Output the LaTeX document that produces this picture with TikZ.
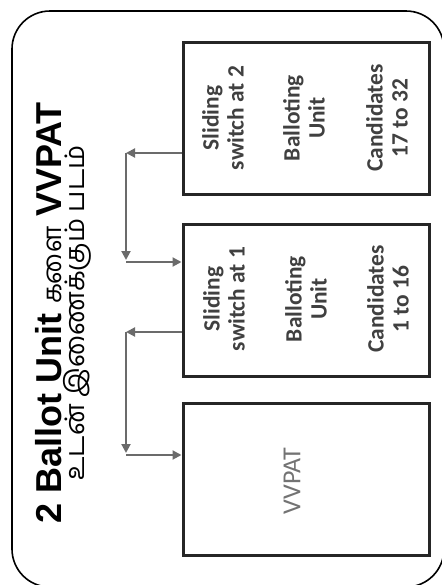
\documentclass[tikz,border=0pt]{standalone}
\usepackage{fontspec}
\setmainfont{Carlito}
\newfontfamily\arialfont{Liberation Sans}
\newfontfamily\tamilfont[Script=Tamil]{Hind Madurai}
\usetikzlibrary{arrows.meta}
\tikzset{
  unitbox/.style={draw=black!85, line width=1.5pt, minimum width=123pt, minimum height=76pt, inner sep=0pt},
  boxlabel/.style={rotate=90, align=center, text=black!75, inner sep=0pt,
    font=\bfseries\fontsize{11.7}{12.5}\selectfont},
  link/.style={draw=black!58, line width=1pt, -{Triangle[length=4.5pt,width=4.5pt]}},
}
\begin{document}
\begin{tikzpicture}[x=0.5pt, y=-0.5pt]

  % Size of the page (reference picture, in pixels)
  \useasboundingbox (0,0) rectangle (442,585);

  % Outer frame with rounded corners
  \draw[line width=0.8pt, rounded corners=19pt] (12,11) rectangle (444,587);

  % Title, read from bottom to top
  \node[rotate=90, inner sep=0pt] (title1) at (49,313)
    {\arialfont\bfseries\fontsize{18}{20}\selectfont 2 Ballot Unit {\tamilfont\mdseries\fontsize{13}{15}\selectfont களை} VVPAT};
  \node[rotate=90, inner sep=0pt] (title2) at (77,313)
    {\tamilfont\fontsize{13.5}{15}\selectfont உடன் இணைக்கும் படம்};

  % The three units (from top to bottom)
  \node[unitbox] (bu2) at (306,118.5) {};
  \node[unitbox] (bu1) at (306,300.5) {};
  \node[unitbox] (vvpat) at (306,479) {};

  % Texts of the second balloting unit
  \node[boxlabel] (sw2) at (223,118) {Sliding\\switch at 2};
  \node[boxlabel] (bal2) at (304,118) {Balloting\\Unit};
  \node[boxlabel] (cand2) at (387,118) {Candidates\\17 to 32};

  % Texts of the first balloting unit
  \node[boxlabel] (sw1) at (224,299) {Sliding\\switch at 1};
  \node[boxlabel] (bal1) at (306,299) {Balloting\\Unit};
  \node[boxlabel] (cand1) at (388,299) {Candidates\\1 to 16};

  % Text of the VVPAT
  \node[rotate=90, inner sep=0pt, text=black!55, font=\fontsize{13}{15}\selectfont] (vvtext) at (292,481) {VVPAT};

  % Corners of the connecting cables
  \coordinate (j1) at (126,153);
  \coordinate (k1) at (126,262);
  \coordinate (j2) at (126,332);
  \coordinate (k2) at (126,455);

  % Cable from unit 2 to unit 1
  \draw[link] (bu2.west |- j1) -- (j1);
  \draw[link, shorten >=1pt] (j1) -- (k1);
  \draw[link] (k1) -- (bu1.west |- k1);

  % Cable from unit 1 to the VVPAT
  \draw[link] (bu1.west |- j2) -- (j2);
  \draw[link, shorten >=1pt] (j2) -- (k2);
  \draw[link] (k2) -- (vvpat.west |- k2);

\end{tikzpicture}
\end{document}
